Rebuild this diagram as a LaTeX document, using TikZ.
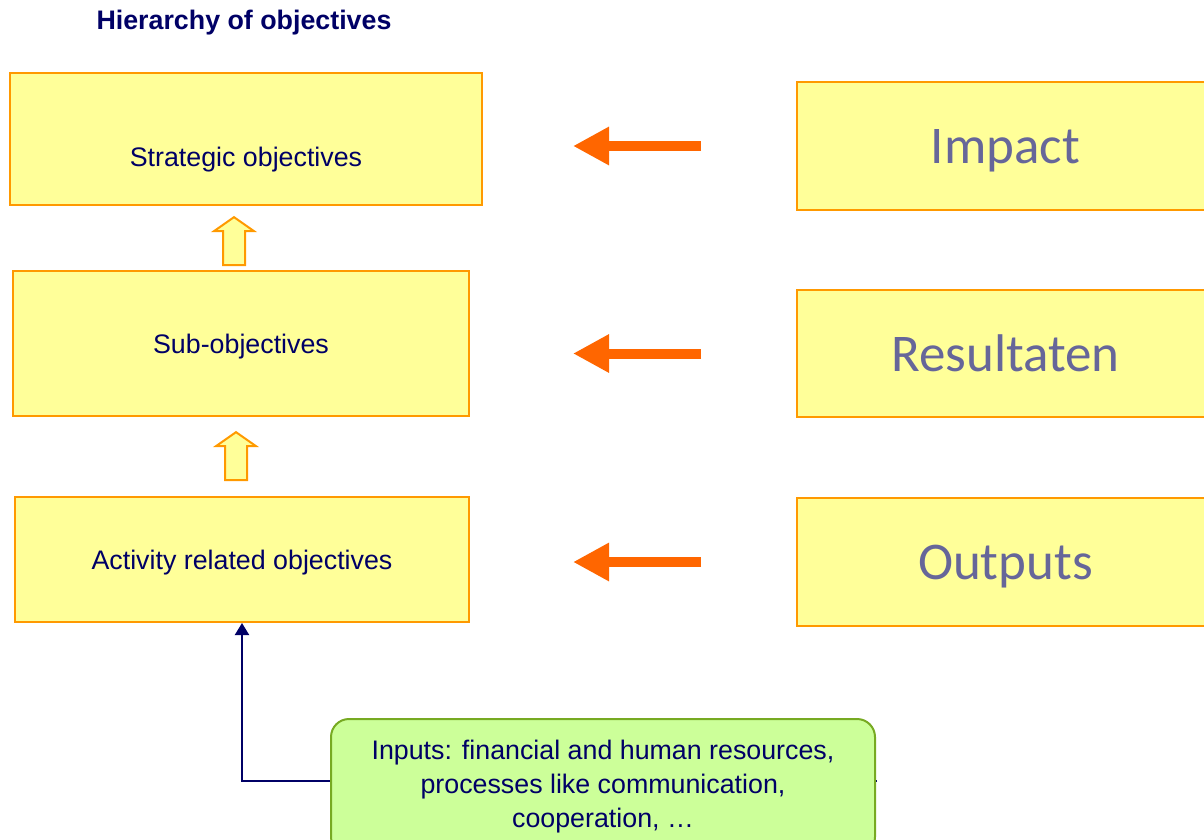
\documentclass[tikz,border=0pt]{standalone}
\usepackage{fontspec}
\setmainfont{Liberation Sans}
\newfontfamily\levelfont{Carlito}
\usepackage{xcolor}
\usetikzlibrary{arrows.meta,calc,positioning,shapes.arrows}
\definecolor{boxfill}{HTML}{FFFF99}
\definecolor{boxline}{HTML}{FF9900}
\definecolor{navytext}{HTML}{000066}
\definecolor{leveltext}{HTML}{666699}
\definecolor{pushorange}{HTML}{FF6600}
\definecolor{infill}{HTML}{CCFF99}
\definecolor{inline}{HTML}{77AA22}
\tikzset{%
	heading/.style  = {font=\fontsize{13.4}{16}\selectfont\bfseries, text=navytext},
	objbox/.style   = {draw=boxline, fill=boxfill, line width=1pt, rectangle, text centered, text depth=0pt, text=navytext, font=\fontsize{13.4}{16}\selectfont},
	levelbox/.style = {draw=boxline, fill=boxfill, line width=1pt, rectangle, minimum width=208.5pt, text depth=0pt, text=leveltext, font=\levelfont\fontsize{26.5}{30}\selectfont},
	inbox/.style    = {draw=inline, fill=infill, line width=1pt, rectangle, rounded corners=9pt, align=center, text=navytext, font=\fontsize{13.4}{17}\selectfont},
	uparrow/.style  = {draw=boxline, fill=boxfill, line width=1pt, single arrow, rotate=90, inner xsep=0pt, inner ysep=5pt, minimum height=24pt, single arrow head extend=4.5pt, single arrow tip angle=110},
	pusharrow/.style= {draw=pushorange, line width=5pt, -{Triangle[length=18pt,width=18pt]}},
	link/.style     = {draw=navytext, line width=1pt, -{Triangle[length=6pt,width=7pt]}},
}
\begin{document}
\begin{tikzpicture}[x=0.5pt,y=-0.5pt]
	\useasboundingbox (0,0) rectangle (1204,840);
	\node[heading] (title) at (244,23) {Hierarchy of objectives};
	% left column
	\node[objbox, minimum width=236pt, minimum height=66pt] (strat) at (246,139) {\raisebox{-13.5pt}[0pt][0pt]{Strategic objectives}};
	\node[objbox, minimum width=228pt, minimum height=72.5pt] (sub) at (241,343.5) {Sub-objectives};
	\node[objbox, minimum width=227pt, minimum height=62.5pt] (act) at (242,559.5) {Activity related objectives};
	\node[uparrow] (up1) at (234,245) {};
	\node[uparrow] (up2) at (236,460) {};
	% right column
	\node[levelbox, minimum height=64pt] (impact) at (1005.5,146) {Impact};
	\node[levelbox, minimum height=63.5pt] (result) at (1005.5,353.5) {Resultaten};
	\node[levelbox, minimum height=64pt] (output) at (1005.5,562) {Outputs};
	\foreach \lv in {impact,result,output}
		\draw[pusharrow] ([xshift=-47.5pt]\lv.west) -- ++(-64pt,0);
	% inputs
	\coordinate (inend) at (877,781);
	\draw[link] (inend) -| (act.south);
	\node[inbox, minimum width=272pt, minimum height=68pt] (inputs) at (603,787) {Inputs: financial and human resources,\\processes like communication,\\cooperation, \dots};
\end{tikzpicture}
\end{document}
